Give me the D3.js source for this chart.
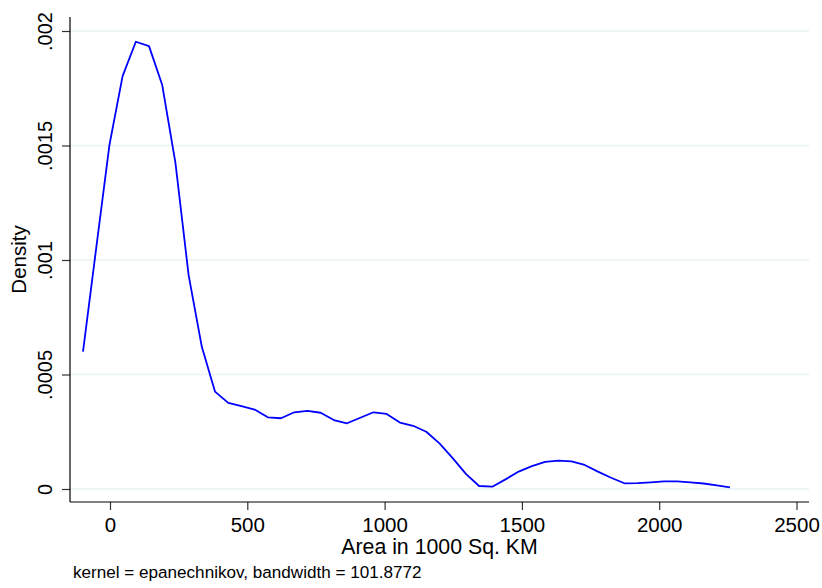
<!DOCTYPE html>
<html>
<head>
<meta charset="utf-8">
<script src="https://cdn.jsdelivr.net/npm/d3@7"></script>
<style>
  body { margin: 0; background: #fff; }
  svg { display: block; font-family: "Liberation Sans", Arial, sans-serif; }
</style>
</head>
<body>
<svg id="chart" width="822" height="588"></svg>
<script>
const WIDTH = 822;
const HEIGHT = 588;

// kernel density estimate, evaluated at 50 points
const areaPoints = [
  -98.3, -50.2, -2.1, 45.9, 94.0, 142.1, 190.2, 238.3, 286.3, 334.4,
  382.5, 430.6, 478.7, 526.7, 574.8, 622.9, 671.0, 719.1, 767.1, 815.2,
  863.3, 911.4, 959.5, 1007.5, 1055.6, 1103.7, 1151.8, 1199.9, 1247.9, 1296.0,
  1344.1, 1392.2, 1440.3, 1488.3, 1536.4, 1584.5, 1632.6, 1680.7, 1728.7, 1776.8,
  1824.9, 1873.0, 1921.1, 1969.1, 2017.2, 2065.3, 2113.4, 2161.5, 2209.5, 2257.6
];
// density values, in units of 1e-4
const densityValues = [
  6.00, 10.52, 15.02, 18.03, 19.53, 19.34, 17.64, 14.24, 9.34, 6.21,
  4.25, 3.76, 3.62, 3.47, 3.13, 3.09, 3.35, 3.41, 3.33, 3.01,
  2.87, 3.11, 3.35, 3.28, 2.90, 2.76, 2.50, 1.99, 1.35, 0.66,
  0.13, 0.10, 0.42, 0.76, 1.00, 1.18, 1.24, 1.21, 1.05, 0.76,
  0.49, 0.25, 0.26, 0.29, 0.33, 0.33, 0.29, 0.24, 0.16, 0.07
];
const xTicks = [0, 500, 1000, 1500, 2000, 2500];
const yTicks = [0, 0.0005, 0.001, 0.0015, 0.002];
const yTickLabels = ["0", ".0005", ".001", ".0015", ".002"];

const data = areaPoints.map((x, i) => ({ x: x, y: densityValues[i] * 1e-4 }));

const PLOT_LEFT = 70;
const PLOT_RIGHT = 809;
const PLOT_TOP = 17;
const PLOT_BOTTOM = 502;

const x = d3.scaleLinear().domain([0, 2500]).range([110, 796.5]);
const y = d3.scaleLinear().domain([0, 0.002]).range([489, 31]);

const svg = d3.select("#chart");

// gridlines
svg.append("g")
  .selectAll("line")
  .data(yTicks)
  .enter()
  .append("line")
  .attr("x1", PLOT_LEFT)
  .attr("x2", PLOT_RIGHT)
  .attr("y1", d => y(d))
  .attr("y2", d => y(d))
  .attr("stroke", "#eaf2f3")
  .attr("stroke-width", 1.5);

// y axis
const yAxis = svg.append("g")
  .attr("transform", "translate(" + PLOT_LEFT + ",0)")
  .call(d3.axisLeft(y).tickValues(yTicks).tickSize(8).tickFormat((d, i) => yTickLabels[i]));
yAxis.select(".domain").remove();
yAxis.selectAll(".tick line").attr("stroke", "#333").attr("stroke-width", 1.2);
yAxis.selectAll(".tick text")
  .attr("x", null).attr("dy", null)
  .attr("transform", "translate(-18,0) rotate(-90)")
  .attr("text-anchor", "middle")
  .attr("font-size", 20)
  .attr("font-family", "'Liberation Sans', Arial, sans-serif")
  .attr("fill", "#000");
svg.append("line")
  .attr("x1", PLOT_LEFT).attr("x2", PLOT_LEFT)
  .attr("y1", PLOT_TOP).attr("y2", PLOT_BOTTOM)
  .attr("stroke", "#000").attr("stroke-width", 1.2);

// x axis
const xAxis = svg.append("g")
  .attr("transform", "translate(0," + PLOT_BOTTOM + ")")
  .call(d3.axisBottom(x).tickValues(xTicks).tickSize(8).tickFormat(d3.format("d")));
xAxis.select(".domain").remove();
xAxis.selectAll(".tick line").attr("stroke", "#333").attr("stroke-width", 1.2);
xAxis.selectAll(".tick text")
  .attr("y", 30).attr("dy", null)
  .attr("font-size", 20.5)
  .attr("font-family", "'Liberation Sans', Arial, sans-serif")
  .attr("fill", "#000");
svg.append("line")
  .attr("x1", PLOT_LEFT).attr("x2", PLOT_RIGHT)
  .attr("y1", PLOT_BOTTOM).attr("y2", PLOT_BOTTOM)
  .attr("stroke", "#000").attr("stroke-width", 1.2);

// density curve
const line = d3.line().x(d => x(d.x)).y(d => y(d.y));
svg.append("path")
  .datum(data)
  .attr("d", line)
  .attr("fill", "none")
  .attr("stroke", "#0000ff")
  .attr("stroke-width", 1.8)
  .attr("stroke-linejoin", "round");

// titles
svg.append("text")
  .attr("x", (PLOT_LEFT + PLOT_RIGHT) / 2)
  .attr("y", 554)
  .attr("text-anchor", "middle")
  .attr("font-size", 21.3)
  .text("Area in 1000 Sq. KM");

svg.append("text")
  .attr("transform", "translate(26," + ((PLOT_TOP + PLOT_BOTTOM) / 2) + ") rotate(-90)")
  .attr("text-anchor", "middle")
  .attr("font-size", 20.5)
  .text("Density");

svg.append("text")
  .attr("x", 73)
  .attr("y", 578)
  .attr("font-size", 17.1)
  .text("kernel = epanechnikov, bandwidth = 101.8772");
</script>
</body>
</html>
